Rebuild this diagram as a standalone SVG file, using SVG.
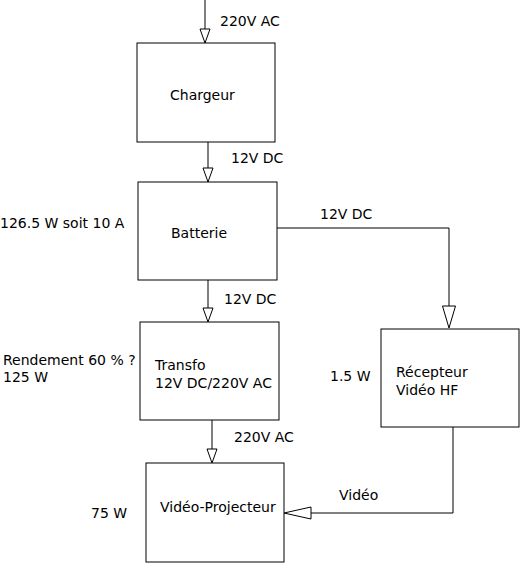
<svg xmlns="http://www.w3.org/2000/svg" width="520" height="563" viewBox="0 0 520 563">
<style>
.box{fill:#fff;stroke:#000;stroke-width:1}
.ln{fill:none;stroke:#000;stroke-width:1}
.ah{fill:#fff;stroke:#000;stroke-width:1}
text{font-family:"DejaVu Sans",sans-serif;font-size:14px;fill:#000}
</style>
<rect width="520" height="563" fill="#fff"/>
<g id="connectors">
<line class="ln" x1="205" y1="0" x2="205" y2="29"/>
<polygon class="ah" points="200,29 210,29 205,43"/>
<text x="220" y="26">220V AC</text>
<line class="ln" x1="208" y1="142" x2="208" y2="168"/>
<polygon class="ah" points="203,168 213,168 208,182"/>
<text x="231" y="163">12V DC</text>
<polyline class="ln" points="277,228 449,228 449,306"/>
<polygon class="ah" points="442.5,306 455.5,306 449,328"/>
<text x="320" y="219">12V DC</text>
<line class="ln" x1="208" y1="280" x2="208" y2="308"/>
<polygon class="ah" points="203,308 213,308 208,322"/>
<text x="224" y="304">12V DC</text>
<line class="ln" x1="212" y1="420" x2="212" y2="449"/>
<polygon class="ah" points="207,449 217,449 212,463"/>
<text x="234" y="442">220V AC</text>
<polyline class="ln" points="453,427 453,513 311,513"/>
<polygon class="ah" points="311,507 311,519 284,513"/>
<text x="339" y="500">Vidéo</text>
</g>
<g id="chargeur">
<rect class="box" x="137" y="43" width="138" height="99"/>
<text x="170" y="100">Chargeur</text>
</g>
<g id="batterie">
<rect class="box" x="138" y="182" width="139" height="98"/>
<text x="171" y="238">Batterie</text>
<text x="0" y="228" font-size="13.8">126.5 W soit 10 A</text>
</g>
<g id="transfo">
<rect class="box" x="140" y="322" width="139" height="98"/>
<text x="155" y="370">Transfo</text>
<text x="155" y="388">12V DC/220V AC</text>
<text x="3" y="365">Rendement 60 % ?</text>
<text x="3" y="382">125 W</text>
</g>
<g id="recepteur">
<rect class="box" x="381" y="329" width="138" height="98"/>
<text x="396" y="377">Récepteur</text>
<text x="396" y="395">Vidéo HF</text>
<text x="330" y="381">1.5 W</text>
</g>
<g id="projecteur">
<rect class="box" x="146" y="463" width="138" height="99"/>
<text x="160" y="512">Vidéo-Projecteur</text>
<text x="91" y="518">75 W</text>
</g>
</svg>
